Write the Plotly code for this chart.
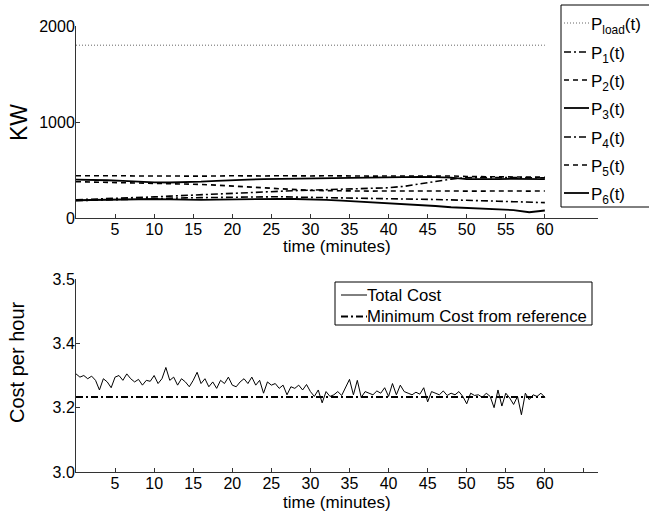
import numpy as np
import plotly.graph_objects as go

# ---------------- data ----------------
t_p = [0, 2, 4, 6, 8, 10, 12, 14, 16, 18, 20, 22, 24, 26, 28, 30,
       32, 34, 36, 38, 40, 42, 44, 46, 48, 50, 52, 54, 56, 58, 60]
p_load = [1800] * len(t_p)
p1 = [190, 195, 200, 205, 212, 220, 228, 236, 242, 248, 255, 262, 270, 278, 285, 290,
      295, 298, 302, 308, 315, 330, 355, 380, 405, 420, 422, 420, 421, 420, 418]
p2 = [440, 442, 438, 440, 437, 440, 438, 436, 440, 437, 440, 436, 438, 440, 436, 438,
      440, 437, 440, 436, 438, 440, 437, 436, 438, 432, 430, 428, 430, 428, 425]
p3 = [400, 398, 393, 386, 378, 372, 370, 372, 378, 386, 395, 400, 405, 408, 410, 412,
      415, 418, 420, 422, 425, 428, 428, 425, 420, 405, 402, 405, 408, 410, 405]
p4 = [180, 185, 190, 195, 200, 205, 208, 210, 212, 215, 220, 222, 225, 222, 218, 215,
      210, 205, 200, 198, 197, 196, 195, 193, 190, 185, 180, 175, 170, 165, 160]
p5 = [378, 375, 370, 365, 362, 360, 358, 355, 350, 342, 335, 325, 315, 305, 295, 288,
      285, 282, 280, 280, 282, 280, 282, 280, 281, 280, 282, 280, 281, 280, 282]
p6 = [185, 188, 190, 193, 195, 198, 195, 190, 188, 192, 195, 198, 200, 200, 198, 195,
      188, 180, 172, 163, 156, 148, 138, 125, 112, 104, 98, 90, 82, 60, 78]

total_cost = [
    3.305, 3.295, 3.300, 3.290, 3.298, 3.285, 3.255, 3.290, 3.280, 3.262, 3.295, 3.300,
    3.285, 3.305, 3.290, 3.280, 3.288, 3.270, 3.285, 3.282,
    3.300, 3.275, 3.290, 3.325, 3.285, 3.295, 3.270, 3.290,
    3.280, 3.265, 3.285, 3.310, 3.275, 3.290, 3.265, 3.280,
    3.260, 3.285, 3.275, 3.295, 3.270, 3.265, 3.280, 3.290,
    3.275, 3.295, 3.270, 3.285, 3.245, 3.280, 3.270, 3.275,
    3.260, 3.270, 3.240, 3.265, 3.260, 3.270, 3.255, 3.272,
    3.250, 3.235, 3.255, 3.215,
    3.250, 3.235, 3.240, 3.250, 3.238, 3.262, 3.288, 3.240, 3.285, 3.232, 3.250, 3.245,
    3.240, 3.252, 3.245, 3.262, 3.235, 3.275, 3.240, 3.270, 3.250, 3.245, 3.240, 3.248,
    3.242, 3.262, 3.218, 3.250, 3.245, 3.240, 3.252, 3.238, 3.245, 3.240, 3.250, 3.235,
    3.212, 3.245, 3.238, 3.240, 3.232, 3.245, 3.235, 3.200, 3.255, 3.205, 3.245, 3.230,
    3.210, 3.235, 3.178, 3.245, 3.225, 3.240, 3.235, 3.245, 3.232,
]
t_cost = np.linspace(0, 60, len(total_cost))
min_cost_t = [0, 60]
min_cost = [3.233, 3.233]

x_ticks = [5, 10, 15, 20, 25, 30, 35, 40, 45, 50, 55, 60]
y1_ticks = [0, 1000, 2000]
y2_tickvals = [3.0, 3.2, 3.4, 3.6]
y2_ticktext = ["3.0", "3.2", "3.4", "3.5"]

top_names = ["P<sub>load</sub>(t)", "P<sub>1</sub>(t)", "P<sub>2</sub>(t)", "P<sub>3</sub>(t)",
             "P<sub>4</sub>(t)", "P<sub>5</sub>(t)", "P<sub>6</sub>(t)"]
bottom_names = ["Total Cost", "Minimum Cost from reference"]

# ---------------- figure ----------------
FONT = "Liberation Sans, Arial, Helvetica, sans-serif"
W, H = 649, 512


def px(x):
    return x / W


def py(y):
    return 1 - y / H


fig = go.Figure()

DASH = "5px,4px"
DASHDOT = "7px,3px,2px,3px"
DOT = "1px,2px"

top_values = [p_load, p1, p2, p3, p4, p5, p6]
top_styles = [(DOT, 1, "#666666"), (DASHDOT, 1.6, "black"), (DASH, 1.6, "black"),
              ("solid", 1.8, "black"), (DASHDOT, 1.6, "black"), (DASH, 1.6, "black"),
              ("solid", 1.8, "black")]
for name, ys, (dash, w, col) in zip(top_names, top_values, top_styles):
    fig.add_trace(go.Scatter(x=t_p, y=ys, mode="lines", name=name,
                             line=dict(color=col, width=w, dash=dash),
                             xaxis="x", yaxis="y"))

bottom_styles = [("solid", 1, "black"), (DASHDOT, 2, "black")]
fig.add_trace(go.Scatter(x=t_cost, y=total_cost, mode="lines", name=bottom_names[0],
                         line=dict(color="black", width=1), xaxis="x2", yaxis="y2"))
fig.add_trace(go.Scatter(x=min_cost_t, y=min_cost, mode="lines", name=bottom_names[1],
                         line=dict(color="black", width=2, dash=DASHDOT),
                         xaxis="x2", yaxis="y2"))

x0, x1 = px(76), px(598)
axis_common = dict(showline=True, linecolor="#333333", linewidth=1, ticks="inside",
                   ticklen=4, tickcolor="#333333", showgrid=False, zeroline=False,
                   automargin=False, ticklabelstandoff=-3,
                   tickfont=dict(family=FONT, size=16, color="black"))

shapes = []
annotations = []

# ---- manual legend (top) ----
shapes.append(dict(type="rect", xref="paper", yref="paper", x0=px(561), x1=px(700),
                   y0=py(5), y1=py(207), line=dict(color="black", width=1),
                   fillcolor="white", layer="above"))
entry_y = [23, 52, 80, 108, 137, 165, 193]
for name, (dash, w, col), yy in zip(top_names, top_styles, entry_y):
    shapes.append(dict(type="line", xref="paper", yref="paper", x0=px(564), x1=px(589),
                       y0=py(yy), y1=py(yy), line=dict(color=col, width=w, dash=dash),
                       layer="above"))
    annotations.append(dict(text=name, x=px(589), y=py(yy + 3), xref="paper", yref="paper",
                            showarrow=False, xanchor="left", yanchor="middle",
                            font=dict(size=17)))

# ---- manual legend (bottom) ----
shapes.append(dict(type="rect", xref="paper", yref="paper", x0=px(335), x1=px(592),
                   y0=py(282), y1=py(325), line=dict(color="black", width=1),
                   fillcolor="white", layer="above"))
for name, (dash, w, col), yy in zip(bottom_names, bottom_styles, [295, 316.5]):
    shapes.append(dict(type="line", xref="paper", yref="paper", x0=px(341), x1=px(367),
                       y0=py(yy), y1=py(yy), line=dict(color=col, width=w, dash=dash),
                       layer="above"))
    annotations.append(dict(text=name, x=px(365), y=py(yy), xref="paper", yref="paper",
                            showarrow=False, xanchor="left", yanchor="middle",
                            font=dict(size=16.7)))

annotations += [
    dict(text="time (minutes)", x=(x0 + x1) / 2, y=py(246), xref="paper",
         yref="paper", showarrow=False, font=dict(size=17), xanchor="center",
         yanchor="middle"),
    dict(text="time (minutes)", x=(x0 + x1) / 2, y=py(502), xref="paper",
         yref="paper", showarrow=False, font=dict(size=17), xanchor="center",
         yanchor="middle"),
    dict(text="KW", x=px(19), y=py(123), xref="paper", yref="paper",
         showarrow=False, font=dict(size=23), textangle=-90,
         xanchor="center", yanchor="middle"),
    dict(text="Cost per hour", x=px(17), y=py(362), xref="paper", yref="paper",
         showarrow=False, font=dict(size=20), textangle=-90,
         xanchor="center", yanchor="middle"),
]

fig.update_layout(
    width=W, height=H, margin=dict(l=0, r=0, t=0, b=0, pad=0),
    paper_bgcolor="white", plot_bgcolor="white",
    font=dict(family=FONT, size=17, color="black"),
    showlegend=False,
    xaxis=dict(domain=[x0, x1], range=[0, 66.8], tickvals=x_ticks, anchor="y",
               **axis_common),
    yaxis=dict(domain=[py(218), py(26)], range=[0, 2000], tickvals=y1_ticks,
               anchor="x", **axis_common),
    xaxis2=dict(domain=[x0, x1], range=[0, 66.8],
                tickvals=x_ticks + [65, 66.8],
                ticktext=[str(v) for v in x_ticks] + ["", ""],
                anchor="y2", **axis_common),
    yaxis2=dict(domain=[py(472), py(279)], range=[3.0, 3.6],
                tickvals=y2_tickvals, ticktext=y2_ticktext, anchor="x2", **axis_common),
    shapes=shapes,
    annotations=annotations,
)

fig.write_html("out.html", config={"displayModeBar": False},
               post_script="document.body.style.margin='0';document.body.style.padding='0';")
